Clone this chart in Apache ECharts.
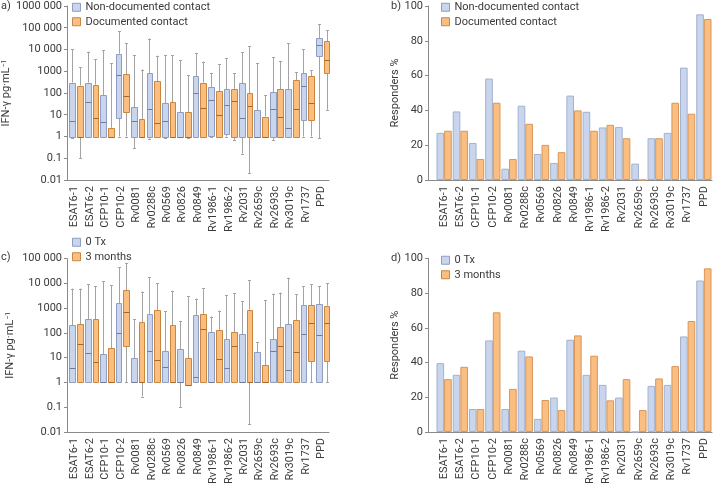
<!DOCTYPE html>
<html><head><meta charset="utf-8">
<script src="https://cdn.jsdelivr.net/npm/echarts@6/dist/echarts.min.js"></script>
<style>html,body{margin:0;padding:0;background:#fff}#c{width:716px;height:487px}</style>
</head><body><div id="c"></div>
<script>
const categories = ['ESAT6-1','ESAT6-2','CFP10-1','CFP10-2','Rv0081','Rv0288c','Rv0569','Rv0826','Rv0849','Rv1986-1','Rv1986-2','Rv2031','Rv2659c','Rv2693c','Rv3019c','Rv1737','PPD'];
const logTickValues = [0.01, 0.1, 1, 10, 100, 1000, 10000, 100000, 1000000];
const logTickLabels = ['0.01', '0.1', '1', '10', '100', '1000', '10 000', '100 000', '1000 000'];
const seriesNamesContact = ['Non-documented contact', 'Documented contact'];
const seriesNamesTx = ['0 Tx', '3 months'];

// panel a: [whisker low, Q1, median, Q3, whisker high]
const aNonDocumented = [
  [0.87,1,5,300,10000],[1,1,37,300,8000],[1,1,4.5,78,9000],[1,7,650,6500,68000],
  [0.29,1,5.3,22,5500],[0.8,1,18,800,32000],[0.85,1,5.3,33,5400],[1,1,1,13,3200],
  [1,1,95,580,6800],[1,1.07,50,180,820],[1,1.37,27,150,3900],[0.165,1,7,275,7300],
  [0.95,1,1,16,2350],[0.7,1,18,106,4300],[1,1,2.4,145,19500],[1,5.5,220,790,10000],
  [0.83,4800,15500,33000,150000]
];
const aDocumented = [
  [0.1,1,1,220,1500],[1,1,7,240,3500],[1,1,1,2.5,2300],[1,14,72,740,19000],
  [1,1,1,6.3,1200],[1,1,4.4,340,5200],[1,1,1,37,5300],[0.84,1,1,13.6,640],
  [1,1,19.5,300,2800],[1,1,9.6,122,2050],[0.7,1,44,155,820],[0.02,1,24,98,14000],
  [1,1,1,8.3,77],[1,1,8.3,145,3000],[1,1,17.5,390,910],[1,5.5,35,580,1100],
  [17,870,3150,23500,75000]
];
// panel b: responders %
const bNonDocumented = [27.1,39.4,21.3,58.3,6.5,42.7,15,9.8,48.5,39.2,30.2,30.4,9.4,24,27.1,64.6,95.2];
const bDocumented = [28.3,28.3,12.1,44.4,12.1,32.3,20.2,16,40,28.3,31.7,24,0,24,44.4,38.1,92.5];
// panel c
const cTx0 = [
  [1,1,3.9,210,6200],[1,1,15,355,9500],[1,1,1,14,12000],[1,1,100,1600,45000],
  [1,1,1,9.6,350],[1,1,18.4,590,17800],[1,1,4.2,18.4,750],[0.1,1,1,22,300],
  [1,1,1.7,520,2450],[1,1,1,110,460],[1,1,3.9,56,3300],[1,1,1,89,1900],
  [1,1,1,16.7,42],[1,1,19,56,3900],[1,1,3.2,225,17000],[1,1.06,89,1350,7650],
  [1,1,86,1440,7900]
];
const c3Months = [
  [1,1,35,225,6200],[1,1,6.6,355,7600],[1,1,1,24,8400],[1,29,700,5400,65000],
  [0.27,1,1,280,4700],[1,1,7.9,850,10000],[1,1,1,205,5100],[0.78,0.82,0.82,9.3,3000],
  [1,1,140,590,6600],[1,1,9,133,800],[1,1,29,110,4000],[0.02,1,1,880,13800],
  [1,1,1,5.1,2100],[1,1,29,175,4270],[1,1,16.7,325,3650],[1,7.5,255,1320,9500],
  [1,7.5,255,1270,10000]
];
// panel d
const dTx0 = [39.6,32.9,13.2,52.7,13.2,46.8,7.5,19.8,53.1,32.9,27.1,19.8,0,26.5,27.1,55,87.2];
const d3Months = [30.4,37.5,13.2,68.9,24.8,43.5,18.4,12.6,55.6,43.9,18.2,30.4,12.6,30.8,37.9,63.9,94.2];

const FONT = 'Roboto';
const TXT = '#3a3a3a';
const AXIS = '#8a8a8a';
const blueFill = '#c8d5ed', blueStroke = '#8e9dc0', blueMedian = '#6c7ca3';
const orangeFill = '#f9be80', orangeStroke = '#c9873d', orangeMedian = '#a6672a';
const barBlueBorder = '#a3b1cf', barOrangeBorder = '#d8975a';
const whiskerColor = '#a3a3a3';

function toRows(arr) { return arr.map((r, i) => [i].concat(r)); }

function boxRender(shift, widthFrac, fill, stroke, median) {
  return function (params, api) {
    const i = api.value(0);
    const band = api.size([1, 1], [i, 1])[0];
    const cx = api.coord([i, 1])[0] + shift * band;
    const hw = widthFrac * band / 2;
    const y = [1, 2, 3, 4, 5].map(k => api.coord([i, api.value(k)])[1]);
    const xc = Math.round(cx) + 0.5;
    const xl = Math.round(cx - hw) + 0.5, xr = Math.round(cx + hw) + 0.5;
    const r = v => Math.round(v) + 0.5;
    const wStyle = { stroke: whiskerColor, lineWidth: 1 };
    return {
      type: 'group',
      children: [
        { type: 'line', shape: { x1: xc, y1: y[0], x2: xc, y2: y[1] }, style: wStyle },
        { type: 'line', shape: { x1: xc, y1: y[3], x2: xc, y2: y[4] }, style: wStyle },
        { type: 'line', shape: { x1: xc - 1.5, y1: r(y[0]), x2: xc + 1.5, y2: r(y[0]) }, style: wStyle },
        { type: 'line', shape: { x1: xc - 1.5, y1: r(y[4]), x2: xc + 1.5, y2: r(y[4]) }, style: wStyle },
        { type: 'rect', shape: { x: xl, y: r(y[3]), width: xr - xl, height: Math.max(1, r(y[1]) - r(y[3])) },
          style: { fill: fill, stroke: stroke, lineWidth: 1 } },
        { type: 'line', shape: { x1: xl, y1: r(y[2]), x2: xr, y2: r(y[2]) }, style: { stroke: median, lineWidth: 1 } }
      ]
    };
  };
}

function catAxis(gridIndex) {
  return {
    type: 'category', gridIndex: gridIndex, data: categories, boundaryGap: true,
    axisLine: { lineStyle: { color: AXIS, width: 1 } },
    axisTick: { alignWithLabel: true, length: 3, lineStyle: { color: AXIS } },
    axisLabel: { rotate: 90, interval: 0, margin: 6, fontFamily: FONT, fontSize: 11, color: TXT },
    splitLine: { show: false }
  };
}
function logAxis(gridIndex, max) {
  return {
    type: 'log', gridIndex: gridIndex, logBase: 10, min: 0.01, max: max, interval: 1,
    name: 'IFN-γ pg·mL{sup|−1}', nameLocation: 'middle', nameGap: 51,
    nameTextStyle: { fontFamily: FONT, fontSize: 11, color: TXT,
      rich: { sup: { fontFamily: FONT, fontSize: 7, color: TXT, verticalAlign: 'top', lineHeight: 11 } } },
    axisLine: { show: true, lineStyle: { color: AXIS } },
    axisTick: { show: true, length: 3, lineStyle: { color: AXIS } },
    axisLabel: { margin: 5, fontFamily: FONT, fontSize: 11, color: TXT,
      formatter: function (v) {
        const e = Math.round(Math.log10(v));
        const idx = logTickValues.findIndex(t => Math.round(Math.log10(t)) === e);
        return idx >= 0 ? logTickLabels[idx] : '';
      } },
    splitLine: { show: false }
  };
}
function pctAxis(gridIndex) {
  return {
    type: 'value', gridIndex: gridIndex, min: 0, max: 100, interval: 20, offset: 8,
    name: 'Responders %', nameLocation: 'middle', nameGap: 25,
    nameTextStyle: { fontFamily: FONT, fontSize: 11, color: TXT },
    axisLine: { show: true, lineStyle: { color: AXIS } },
    axisTick: { show: true, length: 3, lineStyle: { color: AXIS } },
    axisLabel: { margin: 5, fontFamily: FONT, fontSize: 11, color: TXT },
    splitLine: { show: false }
  };
}
function helperX(gridIndex) {
  return { type: 'value', gridIndex: gridIndex, min: 0, max: 1, axisLine: { show: true, lineStyle: { color: AXIS } },
    axisTick: { show: false }, axisLabel: { show: false }, splitLine: { show: false } };
}
function helperY(gridIndex) {
  return { type: 'value', gridIndex: gridIndex, show: false, min: 0, max: 1 };
}
function legend(left, top, names) {
  return {
    orient: 'vertical', left: left, top: top, padding: 0, itemGap: 2, itemWidth: 8, itemHeight: 8,
    selectedMode: false,
    textStyle: { fontFamily: FONT, fontSize: 11, color: TXT, lineHeight: 12.5 },
    data: [
      { name: names[0], icon: 'rect', itemStyle: { color: blueFill, borderColor: blueStroke, borderWidth: 1 } },
      { name: names[1], icon: 'rect', itemStyle: { color: orangeFill, borderColor: orangeStroke, borderWidth: 1 } }
    ]
  };
}
function title(text, left, top) {
  return { text: text, left: left, top: top, padding: 0,
    textStyle: { fontFamily: FONT, fontSize: 11, fontWeight: 'normal', color: TXT } };
}
function barSeries(name, data, xi, fill, border) {
  return { type: 'bar', name: name, data: data, xAxisIndex: xi, yAxisIndex: xi,
    barGap: '0%', barCategoryGap: '6%',
    itemStyle: { color: fill, borderColor: border, borderWidth: 1 }, emphasis: { disabled: true } };
}
function boxSeries(name, data, xi, shift, fill, stroke, median) {
  return { type: 'custom', name: name, data: toRows(data), xAxisIndex: xi, yAxisIndex: xi,
    encode: { x: 0, y: [1, 2, 3, 4, 5] },
    itemStyle: { color: fill, borderColor: stroke },
    renderItem: boxRender(shift, 0.37, fill, stroke, median), clip: false };
}

const chart = echarts.init(document.getElementById('c'), null, { renderer: 'canvas' });
chart.setOption({
  animation: false,
  title: [title('a)', 1, 1), title('b)', 391, 1), title('c)', 1, 252), title('d)', 391, 253)],
  legend: [legend(72, 1, seriesNamesContact), legend(441, 1, seriesNamesContact),
           legend(72, 236, seriesNamesTx), legend(441, 254, seriesNamesTx)],
  grid: [
    { left: 67, top: 6, width: 262, height: 174 },
    { left: 436, top: 6, width: 276, height: 174 },
    { left: 67, top: 258.7, width: 262, height: 174 },
    { left: 436, top: 258.3, width: 276, height: 174 },
    { left: 428, top: 6, width: 8, height: 174 },
    { left: 428, top: 258.3, width: 8, height: 174 }
  ],
  xAxis: [catAxis(0), catAxis(1), catAxis(2), catAxis(3), helperX(4), helperX(5)],
  yAxis: [logAxis(0, 1000000), pctAxis(1), logAxis(2, 100000), pctAxis(3), helperY(4), helperY(5)],
  series: [
    boxSeries(seriesNamesContact[0], aNonDocumented, 0, -0.156, blueFill, blueStroke, blueMedian),
    boxSeries(seriesNamesContact[1], aDocumented, 0, 0.34, orangeFill, orangeStroke, orangeMedian),
    barSeries(seriesNamesContact[0], bNonDocumented, 1, blueFill, barBlueBorder),
    barSeries(seriesNamesContact[1], bDocumented, 1, orangeFill, barOrangeBorder),
    boxSeries(seriesNamesTx[0], cTx0, 2, -0.156, blueFill, blueStroke, blueMedian),
    boxSeries(seriesNamesTx[1], c3Months, 2, 0.34, orangeFill, orangeStroke, orangeMedian),
    barSeries(seriesNamesTx[0], dTx0, 3, blueFill, barBlueBorder),
    barSeries(seriesNamesTx[1], d3Months, 3, orangeFill, barOrangeBorder)
  ]
});
</script></body></html>
